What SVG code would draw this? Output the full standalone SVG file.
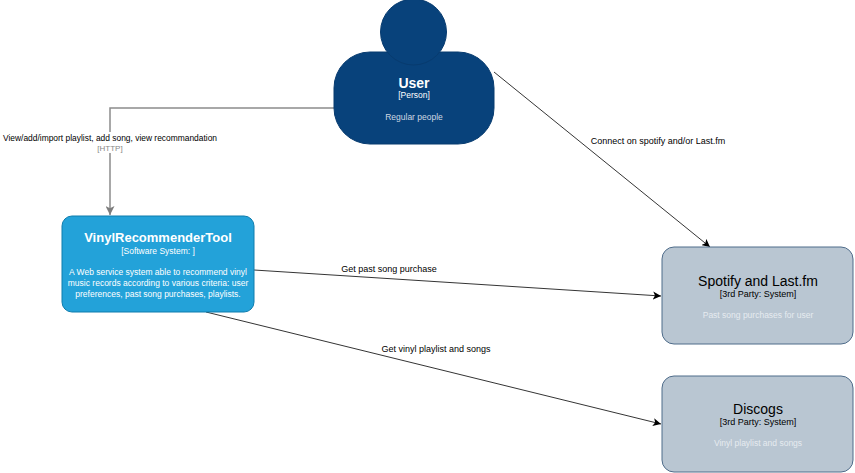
<svg xmlns="http://www.w3.org/2000/svg" width="855" height="473" viewBox="0 0 855 473">
<style>
text{font-family:"Liberation Sans",Arial,Helvetica,sans-serif;text-anchor:middle}
.lbl{font-size:9px;fill:#000}
.t{font-weight:bold;fill:#fff}
.w{fill:#fff;font-size:8.5px}
.ext{fill:#b9c6d2;stroke:#4f6c8a;stroke-width:1}
.et{font-size:14px;fill:#000}
.es{font-size:9px;fill:#000}
.ed{font-size:8.5px;fill:#e6ebf0}
</style>
<defs>
<marker id="ab" viewBox="0 0 10 10" refX="10" refY="5" markerWidth="8" markerHeight="8" markerUnits="userSpaceOnUse" orient="auto">
<path d="M0,0 L10,5 L0,10 L2.5,5 Z" fill="#000"/>
</marker>
<marker id="ag" viewBox="0 0 10 10" refX="10" refY="5" markerWidth="11" markerHeight="9" markerUnits="userSpaceOnUse" orient="auto">
<path d="M0,0 L10,5 L0,10 L2.5,5 Z" fill="#7d7d7d"/>
</marker>
</defs>
<rect width="855" height="473" fill="#fff"/>
<g id="connectors">
<path d="M334,108 H110 V215" fill="none" stroke="#8c8c8c" stroke-width="1.5" marker-end="url(#ag)"/>
<rect x="0" y="132" width="222" height="21" fill="#fff"/>
<text class="lbl" x="110" y="141" font-size="8px" textLength="214" lengthAdjust="spacingAndGlyphs">View/add/import playlist, add song, view recommandation</text>
<text x="110" y="151" style="font-size:8px;fill:#888">[HTTP]</text>
<line x1="494" y1="72" x2="710" y2="247" stroke="#000" stroke-width="0.8" marker-end="url(#ab)"/>
<text class="lbl" x="658" y="144">Connect on spotify and/or Last.fm</text>
<line x1="254" y1="270" x2="661" y2="296" stroke="#000" stroke-width="0.8" marker-end="url(#ab)"/>
<text class="lbl" x="389" y="272">Get past song purchase</text>
<line x1="206" y1="312" x2="661" y2="424" stroke="#000" stroke-width="0.8" marker-end="url(#ab)"/>
<text class="lbl" x="436" y="352">Get vinyl playlist and songs</text>
</g>
<g id="user">
<rect x="334" y="52" width="160" height="92" rx="36" fill="#08427b" stroke="#073b6f"/>
<circle cx="413.5" cy="32" r="33" fill="#08427b" stroke="#073b6f"/>
<text class="t" x="414" y="88" font-size="14px">User</text>
<text x="414" y="98" style="font-size:8.5px;fill:#fff">[Person]</text>
<text x="414" y="120" style="font-size:8.5px;fill:#d0d8e2">Regular people</text>
</g>
<g id="vinyl">
<rect x="62" y="216" width="192" height="96" rx="10" fill="#23a2d9" stroke="#0e7dad"/>
<text class="t" x="158" y="242" font-size="13px">VinylRecommenderTool</text>
<text class="w" x="158" y="254">[Software System: ]</text>
<text class="w" x="158" y="275" fill="#e8f4fb">A Web service system able to recommend vinyl</text>
<text class="w" x="158" y="286">music records according to various criteria: user</text>
<text class="w" x="158" y="297">preferences, past song purchases, playlists.</text>
</g>
<g id="spotify">
<rect class="ext" x="662" y="247" width="191" height="97" rx="12"/>
<text class="et" x="758" y="286">Spotify and Last.fm</text>
<text class="es" x="758" y="297">[3rd Party: System]</text>
<text class="ed" x="758" y="318">Past song purchases for user</text>
</g>
<g id="discogs">
<rect class="ext" x="662" y="376" width="191" height="96" rx="12"/>
<text class="et" x="758" y="414">Discogs</text>
<text class="es" x="758" y="425">[3rd Party: System]</text>
<text class="ed" x="758" y="446">Vinyl playlist and songs</text>
</g>
</svg>
